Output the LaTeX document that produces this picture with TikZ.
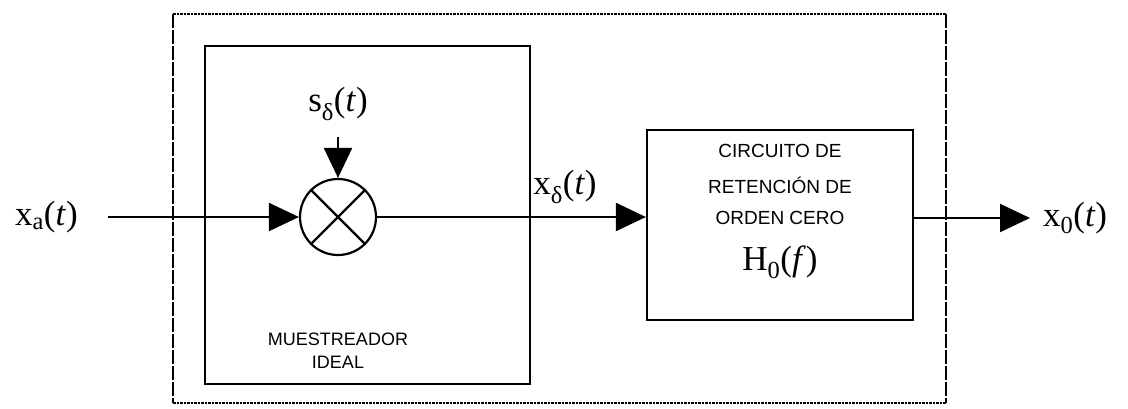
\documentclass[tikz,border=0pt]{standalone}
\usepackage{fontspec}
\setmainfont{Liberation Serif}
\setsansfont{Liberation Sans}
\usetikzlibrary{arrows.meta}
\begin{document}
\begin{tikzpicture}[x=1pt,y=-1pt,
  line width=2.2pt,
  arr/.style={-{Triangle[length=30pt,width=28pt]}},
  lbl/.style={font=\fontsize{35}{38}\selectfont, inner sep=0pt},
  caps/.style={font=\sffamily\fontsize{19}{22}\selectfont, inner sep=0pt}]
\useasboundingbox (0,0) rectangle (1128,408);
% outer dotted frame
\draw[densely dotted, line width=2.5pt] (173,14) -- (946,14);
\draw[densely dotted, line width=2.5pt] (173,403) -- (946,403);
\draw[dash pattern=on 14pt off 2pt, line width=2.5pt] (173,14) -- (173,403);
\draw[dash pattern=on 14pt off 2pt, line width=2.5pt] (946,14) -- (946,403);
% sampler box
\node[draw, minimum width=325pt, minimum height=338pt, inner sep=0pt] (samp) at (367.5,215) {};
\node[caps, font=\sffamily\fontsize{18}{21}\selectfont, align=center] (mlabel) at (338,351) {MUESTREADOR\\[2pt]IDEAL};
% multiplier
\node[draw, circle, minimum size=76pt, inner sep=0pt] (mult) at (338,217) {};
\draw (mult.north west) -- (mult.south east);
\draw (mult.north east) -- (mult.south west);
% hold box
\node[draw, minimum width=266pt, minimum height=190pt, inner sep=0pt] (hold) at (780,225) {};
\node[caps] (c1) at (780,151) {CIRCUITO DE};
\node[caps] (c2) at (780,185) {RETENCIÓN DE};
\node[caps] (c3) at (780,218) {ORDEN CERO};
\node[lbl] (h0) at (780,262) {H\textsubscript{0}(\textit{f})};
% labels
\node[lbl, anchor=west] (xa) at (14,217) {x\textsubscript{a}(\textit{t})};
\node[lbl] (sd) at (338,104) {s\textsubscript{δ}(\textit{t})};
\node[lbl] (xd) at (565,187) {x\textsubscript{δ}(\textit{t})};
\node[lbl, anchor=west] (x0) at (1042,218) {x\textsubscript{0}(\textit{t})};
\coordinate (inA) at (108,217);
\coordinate (sdA) at (338,137);
\coordinate (outA) at (1030,218);
% connectors
\draw[arr] (inA) -- (mult.west);
\draw[arr] (sdA) -- (mult.north);
\draw[arr] (mult.east) -- (hold.west |- mult.east);
\draw[arr] (hold.east |- outA) -- (outA);
\end{tikzpicture}
\end{document}
